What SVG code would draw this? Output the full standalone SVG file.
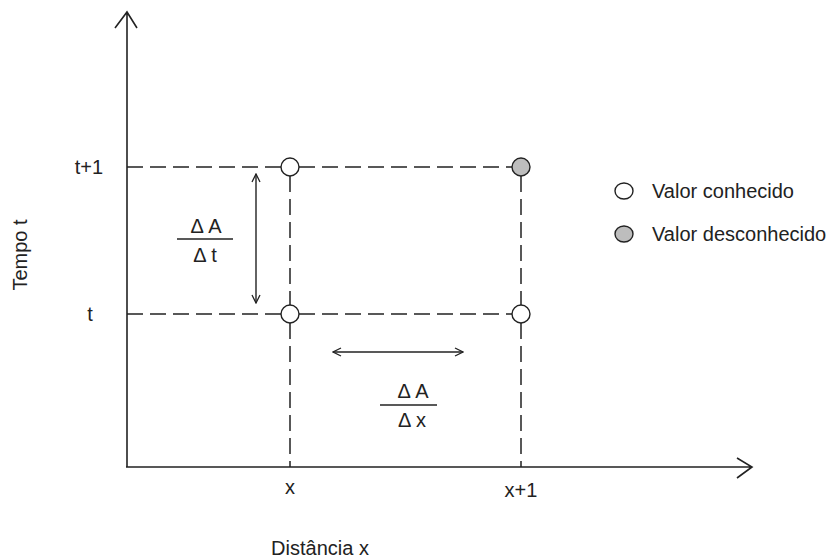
<svg xmlns="http://www.w3.org/2000/svg" width="840" height="560" viewBox="0 0 840 560">
<defs>
<style>
text{font-family:"Liberation Sans",Arial,sans-serif;font-size:20px;fill:#222}
.ax{stroke:#222;stroke-width:1.6;fill:none}
.dash{stroke:#222;stroke-width:1.5;stroke-dasharray:16 7;fill:none}
.arr{stroke:#222;stroke-width:1.4;fill:none}
.known{fill:#fff;stroke:#222;stroke-width:1.4}
.unknown{fill:#bdbdbd;stroke:#222;stroke-width:1.4}
.frac{stroke:#222;stroke-width:1.5}
</style>
<marker id="oa" viewBox="0 0 10 10" refX="9" refY="5" markerWidth="10" markerHeight="10" markerUnits="userSpaceOnUse" orient="auto-start-reverse">
<path d="M1,1 L9,5 L1,9" fill="none" stroke="#222" stroke-width="1.3"/>
</marker>
</defs>
<g id="axes">
<path class="ax" d="M127,467 V12 M115,28 L127,12 L137,28"/>
<path class="ax" d="M126,467 H752 M737,458 L752,467 L737,478"/>
<text x="22" y="255" text-anchor="middle" transform="rotate(-90 22 255)" dominant-baseline="middle">Tempo t</text>
<text x="320" y="555" text-anchor="middle">Distância x</text>
<text x="89" y="174" text-anchor="middle">t+1</text>
<text x="90" y="321" text-anchor="middle">t</text>
<text x="290" y="494" text-anchor="middle">x</text>
<text x="521" y="497" text-anchor="middle">x+1</text>
</g>
<g id="connectors">
<path class="dash" d="M127,167 H281 M299,167 H512"/>
<path class="dash" d="M127,314 H281 M299,314 H512"/>
<path class="dash" d="M290,176 V305 M290,323 V467"/>
<path class="dash" d="M521,176 V305 M521,323 V467"/>
<line class="arr" x1="256" y1="174" x2="256" y2="303" marker-start="url(#oa)" marker-end="url(#oa)"/>
<line class="arr" x1="333" y1="352" x2="463" y2="352" marker-start="url(#oa)" marker-end="url(#oa)"/>
</g>
<g id="n-x-t1"><circle class="known" cx="290" cy="167" r="9"/></g>
<g id="n-x1-t1"><circle class="unknown" cx="521" cy="167" r="9"/></g>
<g id="n-x-t"><circle class="known" cx="290" cy="314" r="9"/></g>
<g id="n-x1-t"><circle class="known" cx="521" cy="314" r="9"/></g>
<g id="frac-t">
<text x="206" y="233" text-anchor="middle">Δ A</text>
<line class="frac" x1="177" y1="239" x2="233" y2="239"/>
<text x="205" y="262" text-anchor="middle">Δ t</text>
</g>
<g id="frac-x">
<text x="413" y="398" text-anchor="middle">Δ A</text>
<line class="frac" x1="380" y1="405" x2="437" y2="405"/>
<text x="412" y="427" text-anchor="middle">Δ x</text>
</g>
<g id="legend">
<ellipse class="known" cx="624" cy="191" rx="9" ry="8"/>
<text x="652" y="198">Valor conhecido</text>
<ellipse class="unknown" cx="624" cy="234" rx="9" ry="8"/>
<text x="652" y="241">Valor desconhecido</text>
</g>
</svg>
